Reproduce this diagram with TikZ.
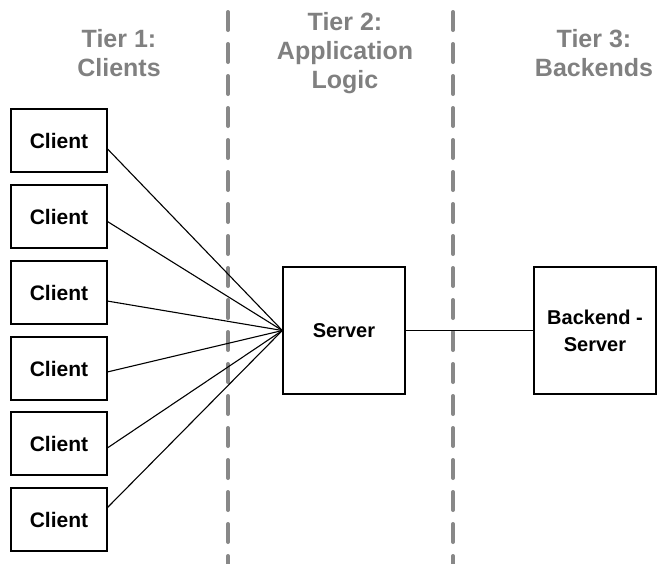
\documentclass[tikz,border=0pt]{standalone}
\usepackage{fontspec}
\setmainfont{Liberation Sans}
\definecolor{headgray}{RGB}{128,128,128}
\definecolor{dashgray}{RGB}{136,136,136}
\begin{document}
\begin{tikzpicture}[x=1pt,y=-1pt,
  box/.style={draw=black, line width=1.3pt, rectangle, inner sep=0pt, align=center},
  clientbox/.style={box, minimum width=96pt, minimum height=63pt, font=\fontsize{21}{25}\selectfont\bfseries},
  bigbox/.style={box, minimum width=122pt, minimum height=127pt, font=\fontsize{20}{27}\selectfont\bfseries},
  heading/.style={text=headgray, font=\fontsize{25}{29}\selectfont\bfseries, align=center, inner sep=0pt},
  divider/.style={draw=dashgray, line width=4pt, line cap=round, dash pattern=on 18pt off 14pt},
  link/.style={draw=black, line width=1.1pt}]
\useasboundingbox (0,0) rectangle (658,563);

% tier dividers
\coordinate (d1t) at (228,12);
\coordinate (d1b) at (228,580);
\coordinate (d2t) at (453,12);
\coordinate (d2b) at (453,580);
\draw[divider] (d1t) -- (d1b);
\draw[divider] (d2t) -- (d2b);

% headings
\node[heading] (h1) at (119,53) {Tier 1:\\Clients};
\node[heading] (h2) at (345,53) {Tier 2:\\Application\\Logic};
\node[heading] (h3) at (594,53) {Tier 3:\\Backends};

% clients
\node[clientbox] (c1) at (59,140.5) {Client};
\node[clientbox] (c2) at (59,216.5) {Client};
\node[clientbox] (c3) at (59,292.5) {Client};
\node[clientbox] (c4) at (59,368.5) {Client};
\node[clientbox] (c5) at (59,443.5) {Client};
\node[clientbox] (c6) at (59,519.5) {Client};

% servers
\node[bigbox] (srv) at (344,330.5) {Server};
\node[bigbox] (be) at (595,330.5) {Backend -\\Server};

% connectors
\draw[link] (c1.-10) -- (srv.west);
\draw[link] (c2.-6) -- (srv.west);
\draw[link] (c3.-10) -- (srv.west);
\draw[link] (c4.-4) -- (srv.west);
\draw[link] (c5.-5) -- (srv.west);
\draw[link] (c6.14) -- (srv.west);
\draw[link] (srv.east) -- (be.west);
\end{tikzpicture}
\end{document}
